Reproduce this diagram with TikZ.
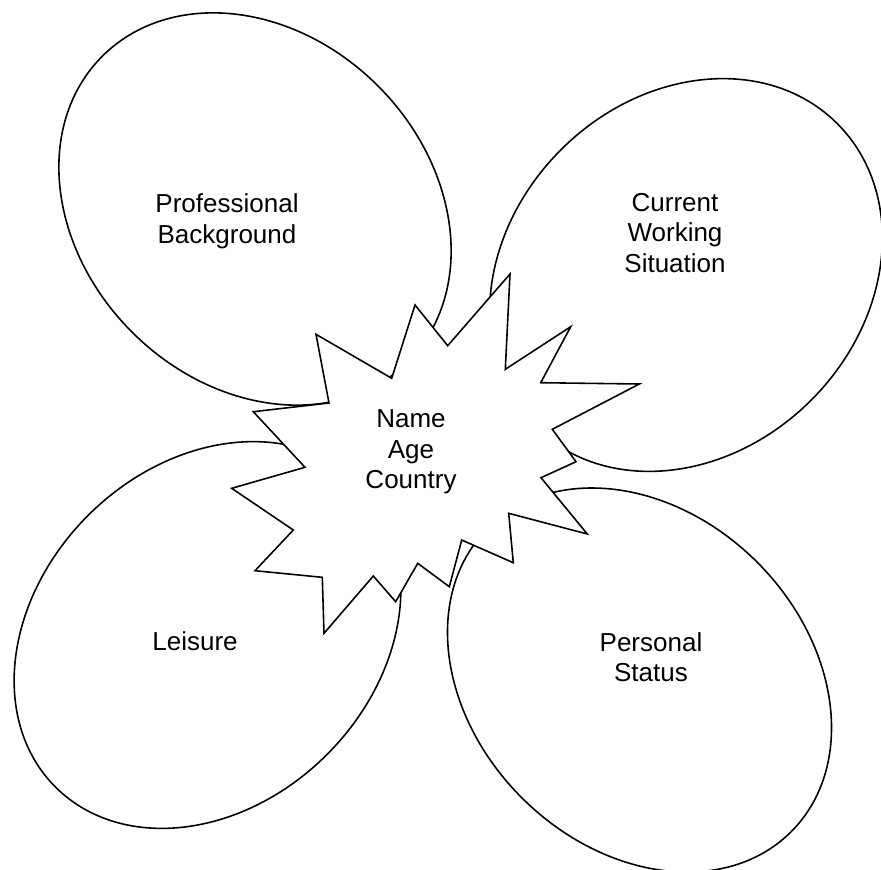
\documentclass[tikz,border=0pt]{standalone}
\usepackage{fontspec}
\setmainfont{Liberation Sans}
\usepackage{tikz}
\tikzset{
  petale/.style={draw, line width=0.9pt, fill=white},
  eclat/.style={draw, line width=0.9pt, fill=white, line join=miter},
  texte/.style={align=center, inner sep=0pt, font=\fontsize{14.8pt}{17.4pt}\selectfont}
}

\begin{document}
\begin{tikzpicture}[x=0.02cm, y=-0.02cm]
  \useasboundingbox (0,0) rectangle (881,869);
  % Pétales autour du centre
  \foreach \cx/\cy/\ang/\ra/\rb in {255/209/-45/216/174, 686/275/45/214/177,
                                    207.5/635/45/215/169, 639.5/680/-45/214.5/166.5} {
    \draw[petale, rotate around={\ang:(\cx,\cy)}] (\cx,\cy) ellipse ({\ra} and {\rb});
  }
  % Etoile au centre
  \draw[eclat] (510,274) -- (505.3,369.3) -- (570.7,326.7) -- (540.7,382.7)
    -- (639.3,384) -- (552.3,429.3) -- (576,461.7) -- (541,477.7)
    -- (587.3,534) -- (508.7,513.3) -- (513.3,562.7) -- (461.7,540)
    -- (449.3,586.7) -- (417.7,563.3) -- (395.7,601.7) -- (373.3,576)
    -- (324,633.3) -- (322.3,577.3) -- (255,570.7) -- (293.3,530)
    -- (231.7,488.3) -- (305,467.3) -- (253.3,411.7) -- (329,403)
    -- (316,334.3) -- (391.7,378.3) -- (415,305) -- (447.7,345.7) -- cycle;
  % Textes
  \node[texte] (centre) at (411,452) {Name\\Age\\Country};
  \node[texte] (pro) at (227,221) {Professional\\Background};
  \node[texte] (travail) at (675,233) {Current\\Working\\Situation};
  \node[texte] (loisirs) at (195,641) {Leisure};
  \node[texte] (perso) at (651,657) {Personal\\Status};
\end{tikzpicture}
\end{document}
